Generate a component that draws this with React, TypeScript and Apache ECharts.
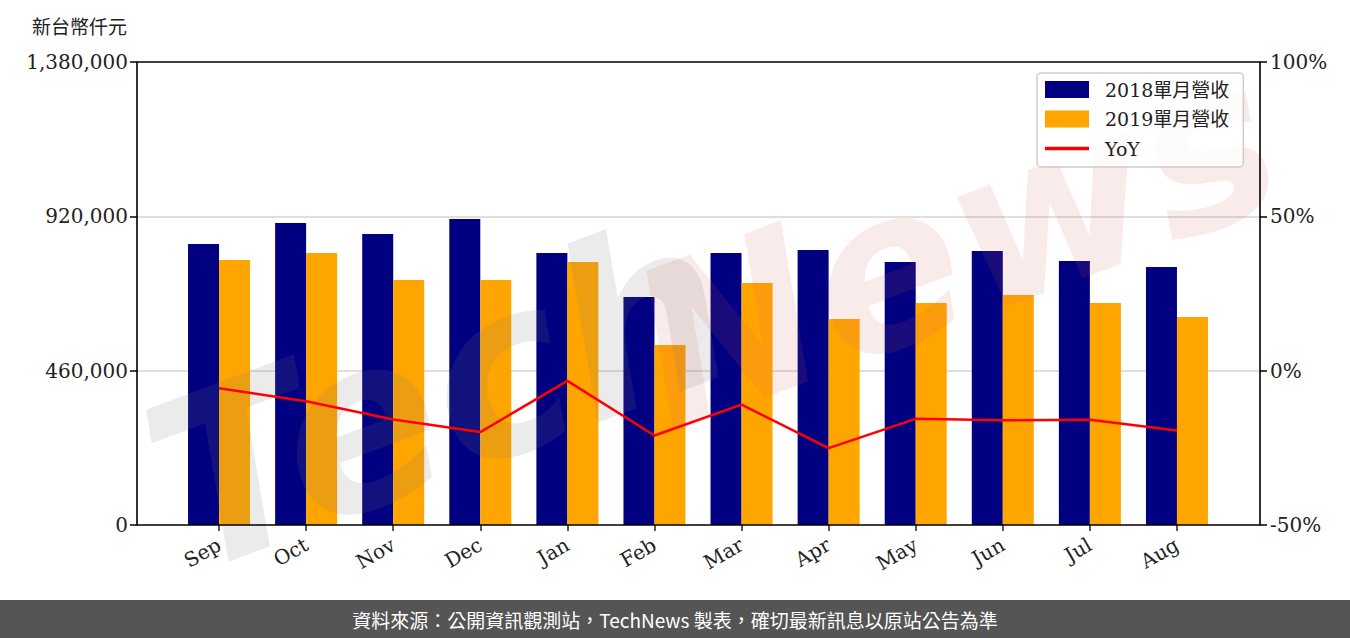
import React, { useEffect, useRef } from "react";
import * as echarts from "echarts";

const months = ["Sep", "Oct", "Nov", "Dec", "Jan", "Feb", "Mar", "Apr", "May", "Jun", "Jul", "Aug"];
const rev2018 = [837500, 900000, 867000, 912000, 810700, 679500, 810700, 819700, 783900, 816700, 786900, 769000];
const rev2019 = [789900, 810700, 730200, 730200, 783900, 536500, 721300, 614000, 661700, 685500, 661700, 620000];
const yoy = [-5.7, -9.9, -15.8, -19.9, -3.3, -21.0, -11.0, -25.1, -15.6, -16.1, -15.9, -19.4];
const leftTicks = [0, 460000, 920000, 1380000];
const rightTicks = [-50, 0, 50, 100];
const seriesNames = ["2018單月營收", "2019單月營收", "YoY"];
const yTitle = "新台幣仟元";
const footer = "資料來源：公開資訊觀測站，TechNews 製表，確切最新訊息以原站公告為準";

const SERIF = "'DejaVu Serif', 'Noto Sans CJK TC', serif";

export default function App() {
  const ref = useRef<HTMLDivElement>(null);
  useEffect(() => {
    if (!ref.current) return;
    const chart = echarts.init(ref.current, null, { renderer: "svg" });
    const leftMax = leftTicks[leftTicks.length - 1];
    const leftInt = leftTicks[1] - leftTicks[0];
    const rMin = rightTicks[0];
    const rMax = rightTicks[rightTicks.length - 1];
    const rInt = rightTicks[1] - rightTicks[0];
    const fmt = (v: number) => v.toLocaleString("en-US");
    const tickStyle = { show: true, length: 7, inside: false, lineStyle: { color: "#000", width: 1.5 } };
    const labelStyle = { fontFamily: SERIF, fontSize: 20, color: "#222" };
    chart.setOption({
      animation: false,
      backgroundColor: "#fff",
      grid: [
        { left: 137, top: 62, width: 1123, height: 463 },
        { left: 175.5, top: 62, width: 1045, height: 463 },
      ],
      legend: {
        orient: "vertical",
        left: 1037,
        top: 73,
        padding: [7, 14, 9, 8],
        itemWidth: 44,
        itemHeight: 17,
        itemGap: 10.5,
        symbolKeepAspect: true,
        borderColor: "#cccccc",
        borderWidth: 1.5,
        borderRadius: 4,
        backgroundColor: "rgba(255,255,255,0.8)",
        z: 10,
        data: [
          { name: seriesNames[0], icon: "rect" },
          { name: seriesNames[1], icon: "rect" },
          { name: seriesNames[2], icon: "path://M0,0 L44,0 L44,3.5 L0,3.5 Z" },
        ],
        textStyle: { fontFamily: SERIF, fontSize: 19, color: "#222", padding: [0, 0, 0, 11] },
      },
      xAxis: [
        { gridIndex: 0, type: "value", min: 0, max: 1, show: false },
        {
          gridIndex: 1,
          type: "category",
          data: months,
          boundaryGap: true,
          axisLine: { show: false },
          axisTick: { show: true, alignWithLabel: true, length: 6, lineStyle: { color: "#222", width: 1.5 } },
          axisLabel: { rotate: 30, margin: 18, fontFamily: SERIF, fontSize: 20, color: "#222" },
          splitLine: { show: false },
        },
      ],
      yAxis: [
        {
          gridIndex: 0,
          type: "value",
          position: "left",
          min: 0,
          max: leftMax,
          interval: leftInt,
          axisLine: { show: false },
          axisTick: tickStyle,
          axisLabel: { ...labelStyle, margin: 9, formatter: (v: number) => fmt(v) },
          splitLine: { show: true, showMinLine: false, showMaxLine: false, lineStyle: { color: "#d4d4d4", width: 1.5 } },
        },
        {
          gridIndex: 0,
          type: "value",
          position: "right",
          min: rMin,
          max: rMax,
          interval: rInt,
          axisLine: { show: false },
          axisTick: tickStyle,
          axisLabel: { ...labelStyle, margin: 10, formatter: (v: number) => v + "%" },
          splitLine: { show: false },
        },
        { gridIndex: 1, type: "value", min: 0, max: leftMax, show: false, splitLine: { show: false } },
        { gridIndex: 1, type: "value", min: rMin, max: rMax, show: false, splitLine: { show: false } },
      ],
      series: [
        {
          name: seriesNames[0],
          type: "bar",
          xAxisIndex: 1,
          yAxisIndex: 2,
          data: rev2018,
          barWidth: 31,
          barGap: "0%",
          itemStyle: { color: "#000080" },
        },
        {
          name: seriesNames[1],
          type: "bar",
          xAxisIndex: 1,
          yAxisIndex: 2,
          data: rev2019,
          barWidth: 31,
          barGap: "0%",
          itemStyle: { color: "#FFA500" },
        },
        {
          name: seriesNames[2],
          type: "line",
          xAxisIndex: 1,
          yAxisIndex: 3,
          data: yoy,
          symbol: "none",
          lineStyle: { color: "#FF0000", width: 2.5 },
          itemStyle: { color: "#FF0000" },
          z: 5,
        },
      ],
      graphic: [
        {
          type: "text",
          left: 32,
          top: 16,
          style: { text: yTitle, font: "19px 'Noto Sans CJK TC', sans-serif", fill: "#222" },
        },
        {
          type: "text",
          x: 440,
          y: 395,
          rotation: 0.36,
          z: 3,
          style: {
            text: "Tech",
            font: "italic bold 235px 'DejaVu Sans', sans-serif",
            fill: "rgba(120,120,120,0.15)",
            align: "center",
            verticalAlign: "middle",
          },
        },
        {
          type: "text",
          x: 955,
          y: 245,
          rotation: 0.36,
          z: 3,
          style: {
            text: "News",
            font: "italic bold 220px 'DejaVu Sans', sans-serif",
            fill: "rgba(215,90,90,0.12)",
            align: "center",
            verticalAlign: "middle",
          },
        },
        {
          type: "rect",
          shape: { x: 137, y: 62, width: 1123, height: 463 },
          style: { fill: "none", stroke: "#000", lineWidth: 1.6 },
          z: 6,
        },
        {
          type: "rect",
          shape: { x: 0, y: 600, width: 1350, height: 38 },
          style: { fill: "#555555" },
          z: 1,
        },
        {
          type: "text",
          x: 675,
          y: 619,
          z: 2,
          style: {
            text: footer,
            font: "19px 'Noto Sans CJK TC', sans-serif",
            fill: "#ffffff",
            align: "center",
            verticalAlign: "middle",
          },
        },
      ],
    });
    return () => chart.dispose();
  }, []);
  return <div ref={ref} style={{ position: "fixed", left: 0, top: 0, width: 1350, height: 638 }} />;
}
